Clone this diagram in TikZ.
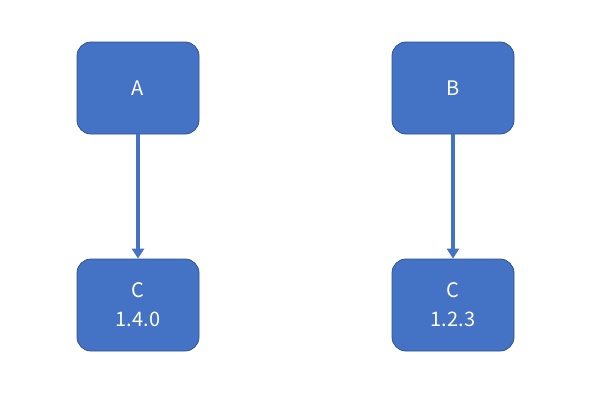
\documentclass[tikz,border=0pt]{standalone}
\usepackage{fontspec}
\setmainfont{Noto Sans CJK SC}
\usetikzlibrary{arrows.meta}
\definecolor{boxfill}{HTML}{4472C4}
\definecolor{boxline}{HTML}{2F528F}
\begin{document}
\begin{tikzpicture}[x=1pt,y=-1pt,
  box/.style={draw=boxline,line width=0.8pt,fill=boxfill,rounded corners=14pt,
    minimum width=122pt,minimum height=92pt,text=white,align=center,
    font=\fontsize{20pt}{29pt}\selectfont,inner sep=0pt},
  conn/.style={draw=boxfill,line width=3.4pt,-{Triangle[length=10pt,width=12pt]}}]
\useasboundingbox (0,0) rectangle (590,392);
\fill[white] (0,0) rectangle (590,392);
\node[box] (a) at (138,88) {A};
\node[box] (b) at (453,88) {B};
\node[box] (c1) at (138,305) {C\\1.4.0};
\node[box] (c2) at (453,305) {C\\1.2.3};
\draw[conn] (a) -- (c1);
\draw[conn] (b) -- (c2);
\end{tikzpicture}
\end{document}
